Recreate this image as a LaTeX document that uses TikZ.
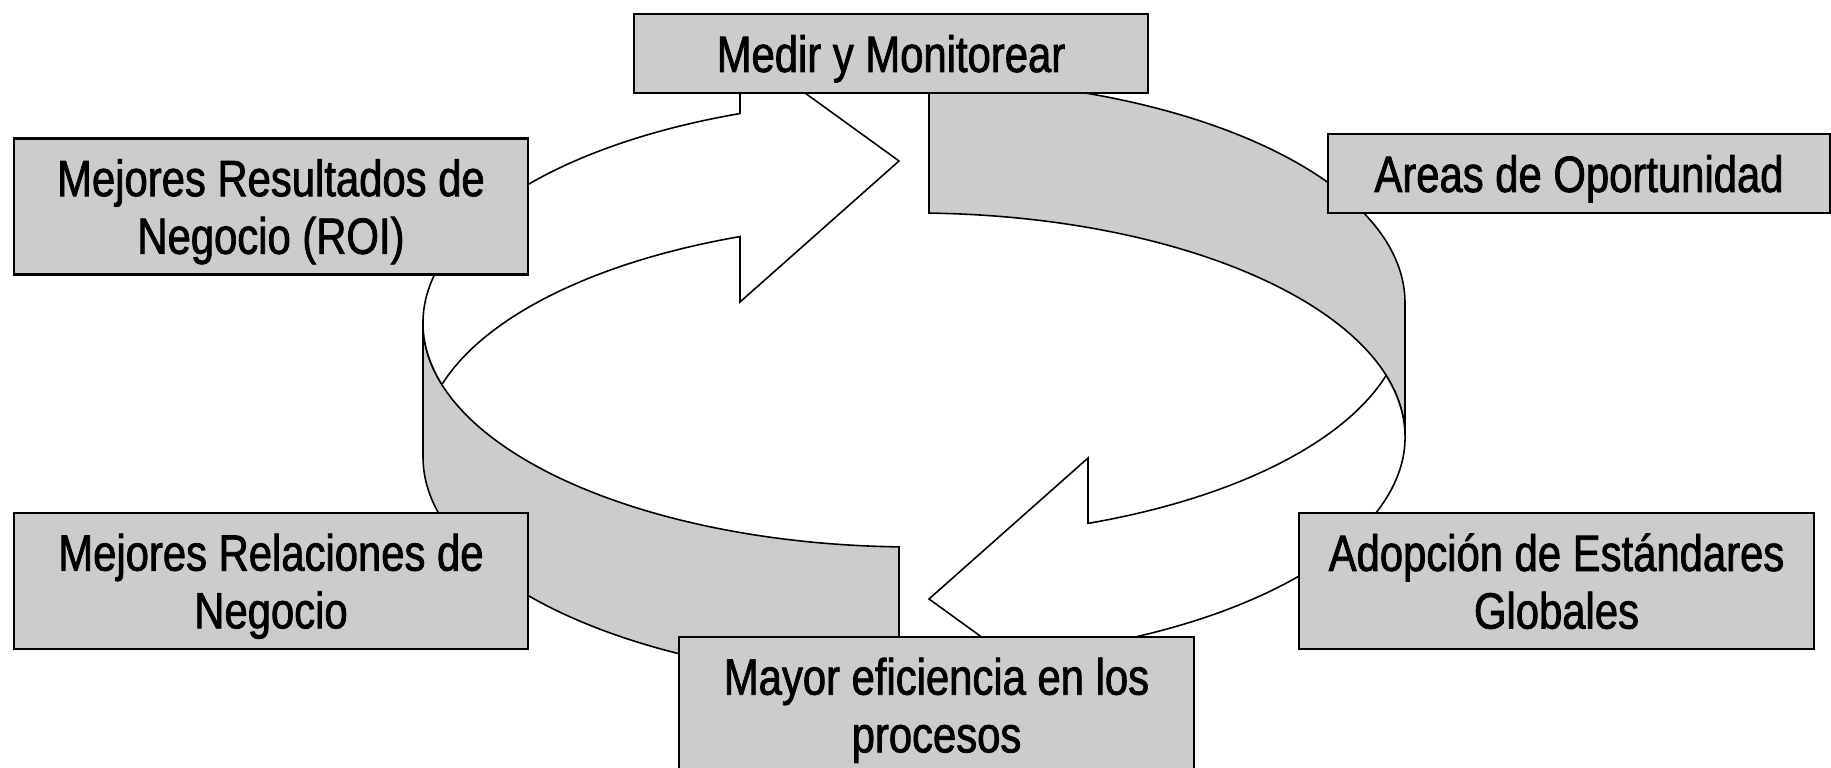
\documentclass[tikz,border=0pt]{standalone}
\usepackage{fontspec}
\usepackage{tikz}
\newfontfamily\angosta[FakeStretch=0.82, FakeBold=1.5]{Liberation Sans}
\definecolor{grisciclo}{RGB}{204, 204, 204}

\begin{document}
\begin{tikzpicture}[x=0.01cm, y=-0.01cm,
  cinta/.style={draw=black, fill=grisciclo, line width=0.45pt, line join=miter},
  flecha/.style={draw=black, fill=white, line width=0.45pt, line join=miter},
  caja/.style={draw=black, fill=grisciclo, line width=0.6pt, inner sep=0pt, text depth=0pt,
    minimum width=5.14cm, align=center, font=\angosta\fontsize{14.5}{16.4}\selectfont},
  corta/.style={minimum height=0.79cm},
  alta/.style={minimum height=1.36cm}]
\clip (0,0) rectangle (1831,768);

% Grey band, left side
\draw[cinta] (423,323) arc[start angle=180, end angle=91.75, x radius=491, y radius=224]
  -- (899,680.9) arc[start angle=91.75, end angle=180, x radius=491, y radius=224] -- cycle;

% White arrow, top left
\draw[flecha] (441.9,384.5) arc[start angle=164.06, end angle=249.24, x radius=491, y radius=224]
  -- (740,46) -- (899,161) -- (740,302) -- (740,236.6)
  arc[start angle=249.24, end angle=195.94, x radius=491, y radius=224] -- cycle;

% Grey band, right side
\draw[cinta] (1405,437) arc[start angle=0, end angle=-88.25, x radius=491, y radius=224]
  -- (929,79.1) arc[start angle=-88.25, end angle=0, x radius=491, y radius=224] -- cycle;

% White arrow, bottom right
\draw[flecha] (1386.1,375.5) arc[start angle=-15.94, end angle=69.24, x radius=491, y radius=224]
  -- (1088,714) -- (929,599) -- (1088,458) -- (1088,523.4)
  arc[start angle=69.24, end angle=15.94, x radius=491, y radius=224] -- cycle;

% Labels
\node[caja, corta] (medir) at (891,53.5) {Medir y Monitorear};
\node[caja, corta, minimum width=5.02cm] (areas) at (1579,173.5) {Areas de Oportunidad};
\node[caja, alta] (resultados) at (271,206.5) {Mejores Resultados de\\Negocio (ROI)};
\node[caja, alta] (relaciones) at (271,581) {Mejores Relaciones de\\Negocio};
\node[caja, alta] (adopcion) at (1556.5,581) {Adopción de Estándares\\Globales};
\node[caja, alta] (mayor) at (936.5,705) {Mayor eficiencia en los\\procesos};
\end{tikzpicture}
\end{document}
